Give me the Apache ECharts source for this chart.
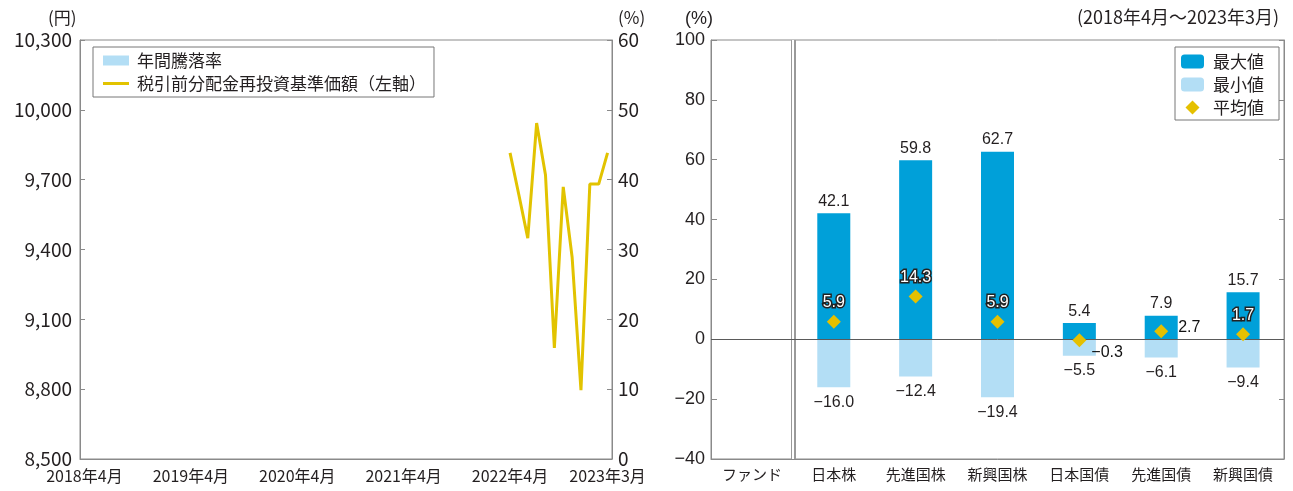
<!DOCTYPE html>
<html><head><meta charset="utf-8">
<script src="https://cdn.jsdelivr.net/npm/echarts@6/dist/echarts.min.js"></script>
<style>html,body{margin:0;padding:0;background:#fff}#c{width:1293px;height:491px}</style>
</head><body><div id="c"></div>
<script>
// ---- Left chart data ----
const startYear = 2018, startMonth = 4, monthCount = 60; // 2018年4月〜2023年3月
const navMonths = ['2022年4月','2022年5月','2022年6月','2022年7月','2022年8月','2022年9月','2022年10月','2022年11月','2022年12月','2023年1月','2023年2月','2023年3月'];
const navValues = [9815, 9634, 9449, 9943, 9720, 8977, 9669, 9368, 8796, 9681, 9681, 9815];
const annualReturnMonths = [];
const annualReturnValues = [];
const yenTicks = [8500, 8800, 9100, 9400, 9700, 10000, 10300];
const pctTicks = [0, 10, 20, 30, 40, 50, 60];

// ---- Right chart data ----
const assetClasses = ['ファンド','日本株','先進国株','新興国株','日本国債','先進国債','新興国債'];
const maxValues = [null, 42.1, 59.8, 62.7, 5.4, 7.9, 15.7];
const minValues = [null, -16.0, -12.4, -19.4, -5.5, -6.1, -9.4];
const avgValues = [null, 5.9, 14.3, 5.9, -0.3, 2.7, 1.7];
const rightTicks = [-40, -20, 0, 20, 40, 60, 80, 100];

const months = [];
for (let i = 0; i < monthCount; i++) {
  const t = (startMonth - 1) + i;
  months.push((startYear + Math.floor(t / 12)) + '年' + ((t % 12) + 1) + '月');
}

const JP = '"Noto Sans CJK JP", "Noto Sans", sans-serif';
const AR = '"Liberation Sans", Arial, sans-serif';
const AXC = '#8a8a8a';
const TXT = '#231f20';
const C_MAX = '#00a0d9', C_MIN = '#b3def5', C_AVG = '#e5c000', C_LINE = '#e2c300';
const fmtSigned = v => (v < 0 ? '\u2212' + Math.abs(v).toFixed(1) : v.toFixed(1));
const sepColors = (c) => assetClasses.concat(['']).map((_, i) => (i === 1 ? c : 'rgba(0,0,0,0)'));

const chart = echarts.init(document.getElementById('c'), null, {renderer: 'canvas'});
const option = {
  animation: false,
  backgroundColor: '#fff',
  title: [
    {text: '(円)', left: 43, top: 4, textStyle: {fontFamily: JP, fontSize: 17, fontWeight: 'normal', color: TXT}},
    {text: '(%)', left: 613, top: 4, textStyle: {fontFamily: JP, fontSize: 17, fontWeight: 'normal', color: TXT}},
    {text: '(%)', left: 680, top: 5, textStyle: {fontFamily: AR, fontSize: 18, fontWeight: 'normal', color: TXT}},
    {text: '(2018年4月～2023年3月)', right: 9, top: 3, textStyle: {fontFamily: JP, fontSize: 18, fontWeight: 'normal', color: TXT}}
  ],
  grid: [
    {left: 80, top: 40, width: 532, height: 419, show: true, borderColor: AXC, borderWidth: 1, containLabel: false, outerBoundsMode: 'none'},
    {left: 711, top: 40, width: 573, height: 419, show: true, borderColor: AXC, borderWidth: 1, containLabel: false, outerBoundsMode: 'none'}
  ],
  legend: [
    {
      left: 93, top: 47, orient: 'vertical',
      data: [
        {name: '年間騰落率', icon: 'rect'},
        {name: '税引前分配金再投資基準価額（左軸）', icon: 'path://M0,0H26V3H0Z'}
      ],
      borderColor: '#777', borderWidth: 1, padding: [4, 8, 4, 10],
      itemWidth: 26, itemHeight: 10, itemGap: 4,
      textStyle: {fontFamily: JP, fontSize: 17, color: TXT, lineHeight: 19, padding: [0, 0, 0, 3]}
    },
    {
      right: 14, top: 47, orient: 'vertical',
      data: ['最大値', '最小値', '平均値'],
      borderColor: '#777', borderWidth: 1, padding: [5, 15, 3, 6],
      itemWidth: 23, itemHeight: 14, itemGap: 4,
      textStyle: {fontFamily: JP, fontSize: 17, color: TXT, lineHeight: 19, padding: [0, 0, 0, 4]}
    }
  ],
  xAxis: [
    {
      type: 'category', gridIndex: 0, data: months, boundaryGap: true,
      axisLine: {lineStyle: {color: AXC}},
      axisTick: {inside: true, length: 5, lineStyle: {color: AXC}, interval: (i) => i % 12 === 0},
      axisLabel: {interval: (i) => i % 12 === 0 || i === monthCount - 1, margin: 9,
        fontFamily: JP, fontSize: 16, color: TXT},
      splitLine: {show: false}
    },
    {
      type: 'category', gridIndex: 1, data: assetClasses, boundaryGap: true,
      axisLine: {onZero: false, lineStyle: {color: AXC}},
      axisTick: {inside: true, length: 5, lineStyle: {color: AXC}, interval: 0},
      axisLabel: {margin: 8, fontFamily: JP, fontSize: 15, color: TXT, interval: 0},
      splitLine: {show: true, interval: 0, lineStyle: {color: sepColors('#9a9a9a'), width: 5}}
    },
    {
      type: 'category', gridIndex: 1, data: assetClasses, boundaryGap: true, position: 'bottom',
      axisLine: {show: false}, axisTick: {show: false}, axisLabel: {show: false},
      splitLine: {show: true, interval: 0, lineStyle: {color: sepColors('#ffffff'), width: 2}}
    }
  ],
  yAxis: [
    {
      type: 'value', gridIndex: 0, position: 'left',
      min: yenTicks[0], max: yenTicks[yenTicks.length - 1], interval: yenTicks[1] - yenTicks[0],
      axisLine: {show: true, lineStyle: {color: AXC}},
      axisTick: {show: true, inside: true, length: 5, lineStyle: {color: AXC}},
      axisLabel: {margin: 8, fontFamily: JP, fontSize: 19, color: TXT,
        formatter: v => v.toLocaleString('en-US')},
      splitLine: {show: false}
    },
    {
      type: 'value', gridIndex: 0, position: 'right',
      min: pctTicks[0], max: pctTicks[pctTicks.length - 1], interval: pctTicks[1] - pctTicks[0],
      axisLine: {show: true, lineStyle: {color: AXC}},
      axisTick: {show: true, inside: true, length: 5, lineStyle: {color: AXC}},
      axisLabel: {margin: 6, fontFamily: JP, fontSize: 19, color: TXT},
      splitLine: {show: false}
    },
    {
      type: 'value', gridIndex: 1, position: 'left',
      min: rightTicks[0], max: rightTicks[rightTicks.length - 1], interval: rightTicks[1] - rightTicks[0],
      axisLine: {show: true, lineStyle: {color: AXC}},
      axisTick: {show: true, inside: true, length: 6, lineStyle: {color: AXC}},
      axisLabel: {margin: 6, fontFamily: AR, fontSize: 18, color: TXT,
        formatter: v => (v < 0 ? '\u2212' + Math.abs(v) : String(v))},
      splitLine: {show: false}
    },
    {
      type: 'value', gridIndex: 1, position: 'right',
      min: rightTicks[0], max: rightTicks[rightTicks.length - 1], interval: rightTicks[1] - rightTicks[0],
      axisLine: {show: true, lineStyle: {color: AXC}},
      axisTick: {show: true, inside: true, length: 5, lineStyle: {color: AXC}},
      axisLabel: {show: false},
      splitLine: {show: false}
    }
  ],
  series: [
    {
      name: '年間騰落率', type: 'bar', xAxisIndex: 0, yAxisIndex: 1,
      itemStyle: {color: C_MIN},
      data: annualReturnMonths.map((m, i) => [m, annualReturnValues[i]])
    },
    {
      name: '税引前分配金再投資基準価額（左軸）', type: 'line', xAxisIndex: 0, yAxisIndex: 0,
      symbol: 'none', lineStyle: {color: C_LINE, width: 3}, itemStyle: {color: C_LINE},
      data: navMonths.map((m, i) => [m, navValues[i]])
    },
    {
      name: '最大値', type: 'bar', xAxisIndex: 1, yAxisIndex: 2, barWidth: 33, barGap: '-100%',
      itemStyle: {color: C_MAX}, z: 2,
      label: {show: true, position: 'top', distance: 4, fontFamily: AR, fontSize: 16, color: TXT,
        formatter: p => fmtSigned(p.value)},
      data: maxValues,
      markLine: {silent: true, symbol: 'none', label: {show: false},
        lineStyle: {color: '#5a5a5a', width: 1, type: 'solid'}, data: [{yAxis: 0}]}
    },
    {
      name: '最小値', type: 'bar', xAxisIndex: 1, yAxisIndex: 2, barWidth: 33, barGap: '-100%',
      itemStyle: {color: C_MIN}, z: 2,
      label: {show: true, position: 'bottom', distance: 7, fontFamily: AR, fontSize: 16, color: TXT,
        formatter: p => fmtSigned(p.value)},
      data: minValues
    },
    {
      name: '平均値', type: 'scatter', xAxisIndex: 1, yAxisIndex: 2, z: 5,
      symbol: 'path://M5,0L10,5L5,10L0,5Z', symbolSize: 14,
      itemStyle: {color: C_AVG, opacity: 1},
      label: {show: true, position: 'top', distance: 4, fontFamily: AR, fontSize: 16,
        color: '#ffffff', textBorderColor: '#222', textBorderWidth: 3,
        formatter: p => fmtSigned(Array.isArray(p.value) ? p.value[1] : p.value)},
      data: avgValues.map((v, i) => {
        if (v === null) return null;
        if (i === 4) return {value: v, label: {position: 'right', distance: 5, offset: [0, 12], color: '#111', textBorderColor: 'rgba(0,0,0,0)', textBorderWidth: 0}};
        if (i === 5) return {value: v, label: {position: 'right', distance: 10, offset: [0, -4], color: '#111', textBorderColor: 'rgba(0,0,0,0)', textBorderWidth: 0}};
        return v;
      })
    }
  ]
};
chart.setOption(option);
</script>
</body></html>
